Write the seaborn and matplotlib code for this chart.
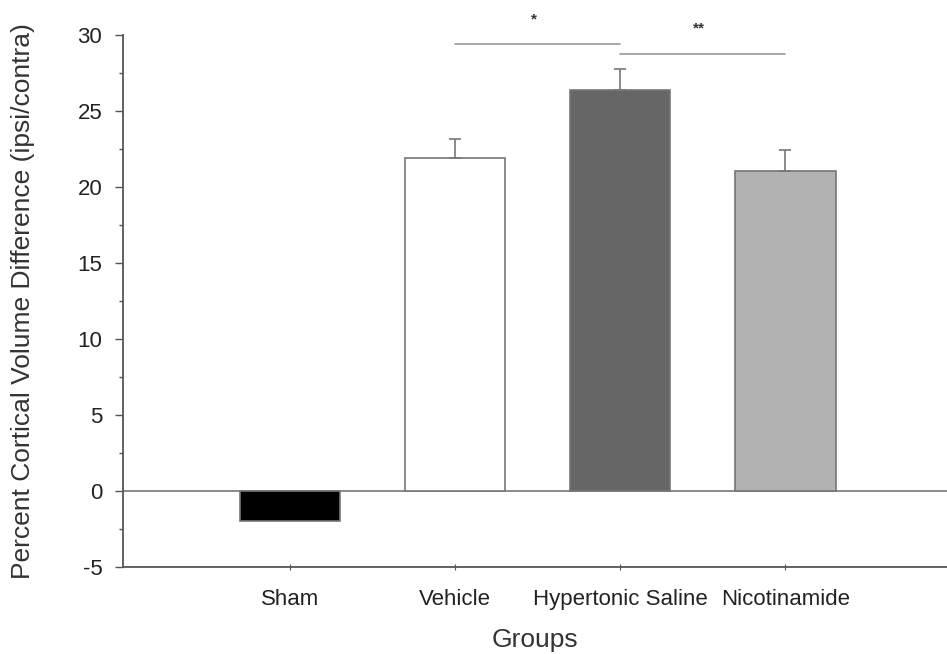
import numpy as np
import pandas as pd
import matplotlib.pyplot as plt
import seaborn as sns
from matplotlib.ticker import MultipleLocator

# values
groups = ['Sham', 'Vehicle', 'Hypertonic Saline', 'Nicotinamide']
means = [-2.0, 21.9, 26.4, 21.05]
sems = [0.0, 1.3, 1.4, 1.4]
bar_colors = ['#000000', '#ffffff', '#666666', '#b2b2b2']

# significance brackets: (left group, right group, height, label)
sig_pairs = [(1, 2, 29.4, '*'), (2, 3, 28.8, '**')]

df = pd.DataFrame({'group': groups, 'value': means})

sns.set_style('ticks')
plt.rcParams['font.family'] = ['Liberation Sans', 'DejaVu Sans']
plt.rcParams['axes.unicode_minus'] = False

fig = plt.figure(figsize=(9.47, 6.54), dpi=100)
ax = fig.add_axes([0.13, 0.133, 0.87, 0.813])

sns.barplot(data=df, x='group', y='value', hue='group', palette=bar_colors,
            width=0.61, edgecolor='#777777', linewidth=1.2, legend=False, ax=ax)

# upper error bars only
for i, (m, s) in enumerate(zip(means, sems)):
    if s > 0:
        ax.errorbar(i, m, yerr=[[0], [s]], fmt='none', ecolor='#777777',
                    elinewidth=1.2, capsize=4.5, capthick=1.2)

ax.axhline(0, color='#777777', lw=1.2, zorder=0.5)

for a, b, h, lab in sig_pairs:
    ax.plot([a, b], [h, h], color='#999999', lw=1.2)
    ax.text((a + b) / 2 - 0.02, h + 1.2, lab, ha='center', va='bottom',
            fontsize=11, fontweight='bold', color='#333333')

ax.set_xlim(-1.01, 3.98)
ax.set_ylim(-5, 30)
ax.yaxis.set_major_locator(MultipleLocator(5))
ax.yaxis.set_minor_locator(MultipleLocator(2.5))
ax.tick_params(axis='y', which='major', length=6, width=1, color='#555555',
               labelsize=16, labelcolor='#222222', pad=9)
ax.tick_params(axis='y', which='minor', length=3, width=1, color='#555555')
ax.tick_params(axis='x', length=4, direction='inout', color='#555555',
               labelsize=16, labelcolor='#222222', pad=14)

for side in ['top', 'right']:
    ax.spines[side].set_visible(False)
for side in ['left', 'bottom']:
    ax.spines[side].set_color('#555555')
    ax.spines[side].set_linewidth(1.3)

ax.set_xlabel('Groups', fontsize=19, color='#333333')
ax.set_ylabel('Percent Cortical Volume Difference (ipsi/contra)', fontsize=19,
              color='#333333')
ax.yaxis.set_label_coords(-0.107, 0.5)
ax.xaxis.set_label_coords(0.5, -0.114)

fig.savefig('out.png', dpi=100)
